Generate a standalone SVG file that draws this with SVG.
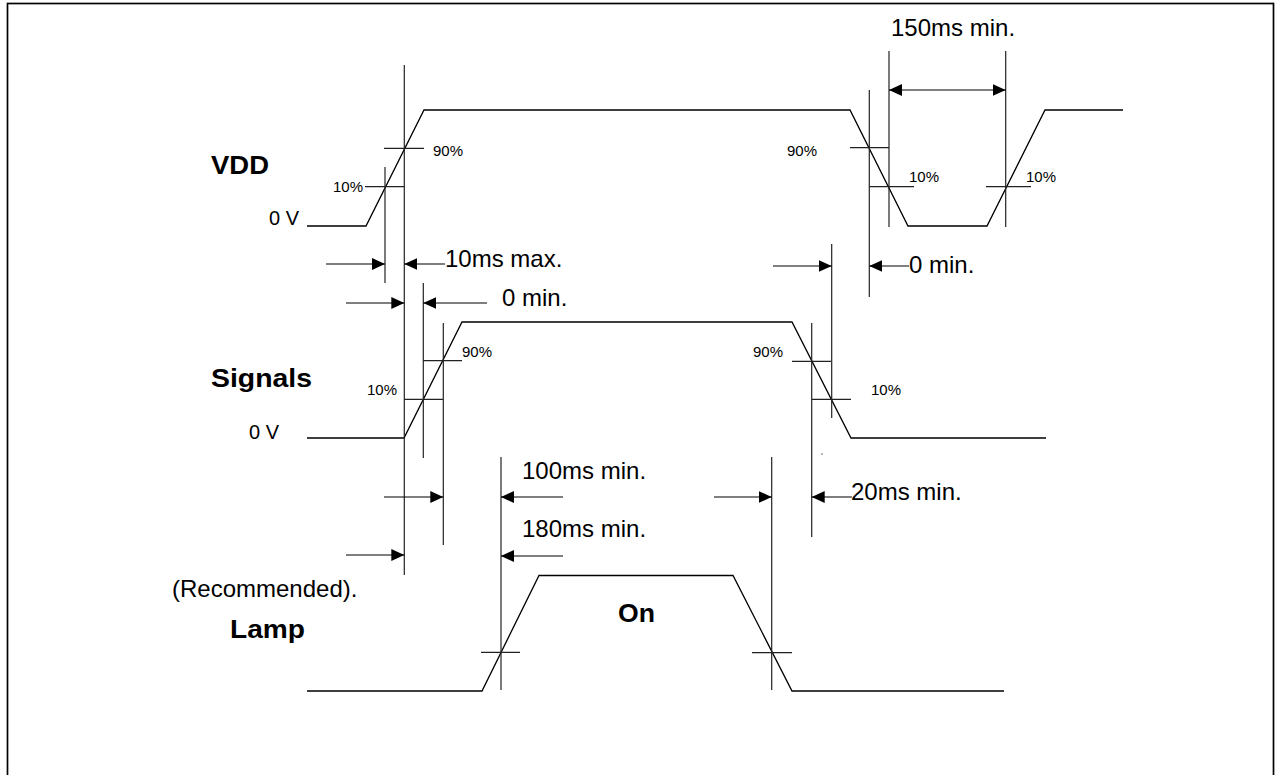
<svg xmlns="http://www.w3.org/2000/svg" width="1275" height="775" viewBox="0 0 1275 775">
<style>
.w{fill:none;stroke:#000;stroke-width:1.3;stroke-linejoin:miter}
.t{stroke:#222;stroke-width:1.2}
.a{stroke:#000;stroke-width:1.2;marker-end:url(#ah)}
.d{stroke:#000;stroke-width:1.2;marker-start:url(#ah);marker-end:url(#ah)}
.lbl{font-family:"Liberation Sans",Arial,sans-serif;font-size:24px;fill:#000}
.pct{font-family:"Liberation Sans",Arial,sans-serif;font-size:15px;fill:#000}
.zv{font-family:"Liberation Sans",Arial,sans-serif;font-size:20px;fill:#000}
.big{font-family:"Liberation Sans",Arial,sans-serif;font-size:26px;font-weight:bold;fill:#000}
</style>
<defs>
<marker id="ah" markerUnits="userSpaceOnUse" markerWidth="14" markerHeight="13" refX="13" refY="6" orient="auto-start-reverse">
<path d="M0,0 L13,6 L0,12 z" fill="#000"/>
</marker>
</defs>
<rect x="7.5" y="3.5" width="1266" height="800" fill="#fff" stroke="#000" stroke-width="1.7"/>

<g id="vdd">
<polyline class="w" points="307,226 366,226 424,110 850,110 908,226 987,226 1045,110 1123,110"/>
<line class="t" x1="384" y1="148.3" x2="424" y2="148.3"/>
<line class="t" x1="365" y1="186.7" x2="404" y2="186.7"/>
<line class="t" x1="850" y1="147.7" x2="889" y2="147.7"/>
<line class="t" x1="869" y1="186.7" x2="914" y2="186.7"/>
<line class="t" x1="986" y1="186.7" x2="1031" y2="186.7"/>
<text class="big" x="211" y="174" textLength="58" lengthAdjust="spacingAndGlyphs">VDD</text>
<text class="zv" x="269" y="225" textLength="30" lengthAdjust="spacingAndGlyphs">0 V</text>
<text class="pct" x="433" y="156">90%</text>
<text class="pct" x="333" y="192">10%</text>
<text class="pct" x="787" y="156">90%</text>
<text class="pct" x="909" y="182">10%</text>
<text class="pct" x="1026" y="182">10%</text>
</g>

<g id="signals">
<polyline class="w" points="307,438 404,438 462,322 792,322 851,438 1046,438"/>
<line class="t" x1="423" y1="360.7" x2="462" y2="360.7"/>
<line class="t" x1="404" y1="399.3" x2="443" y2="399.3"/>
<line class="t" x1="792" y1="361.3" x2="831" y2="361.3"/>
<line class="t" x1="812" y1="399.3" x2="851" y2="399.3"/>
<circle cx="822" cy="454" r="0.8" fill="#555"/>
<text class="big" x="211" y="387" textLength="101" lengthAdjust="spacingAndGlyphs">Signals</text>
<text class="zv" x="249" y="439" textLength="30" lengthAdjust="spacingAndGlyphs">0 V</text>
<text class="pct" x="462" y="357">90%</text>
<text class="pct" x="367" y="395">10%</text>
<text class="pct" x="753" y="357">90%</text>
<text class="pct" x="871" y="395">10%</text>
</g>

<g id="lamp">
<polyline class="w" points="307,691 482,691 539,575.5 733,575.5 792,691 1004,691"/>
<line class="t" x1="481" y1="652.3" x2="520" y2="652.3"/>
<line class="t" x1="752" y1="652.7" x2="792" y2="652.7"/>
<text class="big" x="230" y="638" textLength="75" lengthAdjust="spacingAndGlyphs">Lamp</text>
<text class="big" x="618" y="622" textLength="37" lengthAdjust="spacingAndGlyphs">On</text>
</g>

<g id="connectors">
<line class="t" x1="404.3" y1="65" x2="404.3" y2="575"/>
<line class="t" x1="385" y1="167" x2="385" y2="283"/>
<line class="t" x1="423.3" y1="283" x2="423.3" y2="458"/>
<line class="t" x1="443.3" y1="323" x2="443.3" y2="545"/>
<line class="t" x1="501" y1="457" x2="501" y2="690"/>
<line class="t" x1="869.3" y1="90" x2="869.3" y2="297"/>
<line class="t" x1="889" y1="51" x2="889" y2="227"/>
<line class="t" x1="1005.7" y1="51" x2="1005.7" y2="227"/>
<line class="t" x1="831.7" y1="244" x2="831.7" y2="418"/>
<line class="t" x1="811.7" y1="323" x2="811.7" y2="537"/>
<line class="t" x1="771.7" y1="457" x2="771.7" y2="690"/>

<line class="a" x1="326" y1="264" x2="385" y2="264"/>
<line class="a" x1="445" y1="264" x2="404.3" y2="264"/>
<line class="a" x1="773" y1="266" x2="831.7" y2="266"/>
<line class="a" x1="909" y1="266" x2="869.3" y2="266"/>
<line class="a" x1="346" y1="303" x2="404.3" y2="303"/>
<line class="a" x1="487" y1="303" x2="423.3" y2="303"/>
<line class="d" x1="889" y1="90" x2="1005.7" y2="90"/>
<line class="a" x1="384" y1="497" x2="443.3" y2="497"/>
<line class="a" x1="563" y1="497" x2="501" y2="497"/>
<line class="a" x1="714" y1="497" x2="771.7" y2="497"/>
<line class="a" x1="852" y1="497" x2="811.7" y2="497"/>
<line class="a" x1="346" y1="555" x2="404.3" y2="555"/>
<line class="a" x1="563" y1="556" x2="501" y2="556"/>

<text class="lbl" x="891" y="36">150ms min.</text>
<text class="lbl" x="445" y="267">10ms max.</text>
<text class="lbl" x="909" y="273">0 min.</text>
<text class="lbl" x="502" y="306">0 min.</text>
<text class="lbl" x="522" y="479">100ms min.</text>
<text class="lbl" x="851" y="500">20ms min.</text>
<text class="lbl" x="522" y="537">180ms min.</text>
<text class="lbl" x="172" y="597">(Recommended).</text>
</g>
</svg>
